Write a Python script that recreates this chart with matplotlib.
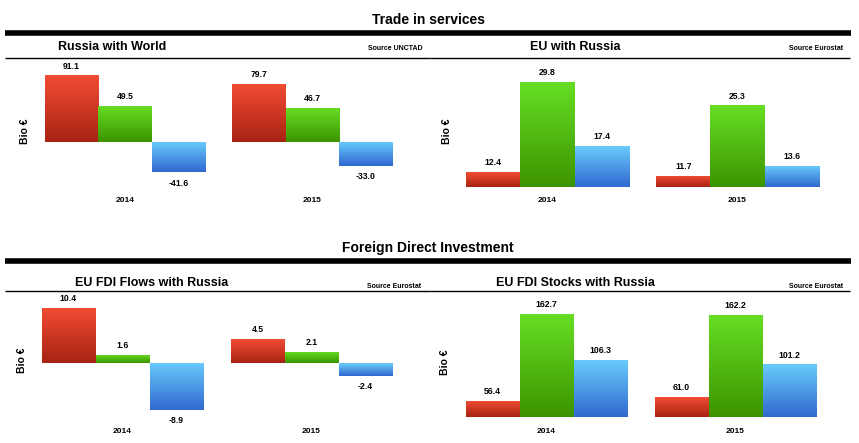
import numpy as np
import matplotlib
matplotlib.use('Agg')
import matplotlib.pyplot as plt
from matplotlib.colors import LinearSegmentedColormap

plt.rcParams['font.family'] = ['Liberation Sans', 'DejaVu Sans']

# ---------------- data ----------------
years = ['2014', '2015']

# Trade in services: Russia with World (Source UNCTAD)
rw_red = [91.1, 79.7]
rw_green = [49.5, 46.7]
rw_blue = [-41.6, -33.0]

# Trade in services: EU with Russia (Source Eurostat)
eu_red = [12.4, 11.7]
eu_green = [29.8, 25.3]
eu_blue = [17.4, 13.6]

# FDI flows
fl_red = [10.4, 4.5]
fl_green = [1.6, 2.1]
fl_blue = [-8.9, -2.4]

# FDI stocks
st_red = [56.4, 61.0]
st_green = [162.7, 162.2]
st_blue = [106.3, 101.2]

# ---------------- styling ----------------
W, H = 859, 443
fig = plt.figure(figsize=(W / 100, H / 100), dpi=100)
fig.patch.set_facecolor('white')

grad = {
    'red': ('#f24c33', '#a82313'),
    'green': ('#66de24', '#3d9400'),
    'blue': ('#68cbfb', '#3169d0'),
}


def fx(px):
    return px / W


def fy(py):
    return 1 - py / H


def hline(y, x0, x1, lw):
    fig.add_artist(plt.Line2D([fx(x0), fx(x1)], [fy(y), fy(y)], color='black',
                              lw=lw, transform=fig.transFigure, solid_capstyle='butt'))


def panel(box, center_px, step_px, base_px, scale, base_val, pad_pt, series):
    L, T, R, B = box
    ax = fig.add_axes([fx(L), fy(B), fx(R) - fx(L), (B - T) / H])
    xlim = ((L - center_px) / step_px, (R - center_px) / step_px)
    ylim = (base_val - (B - base_px) / scale, base_val + (base_px - T) / scale)
    groups = np.array([0.0, 3.5])
    for i, (vals, cname) in enumerate(series):
        xs = groups + (i - 1)
        bars = ax.bar(xs, vals, width=1.0, color='none', edgecolor='none')
        c_top, c_bot = grad[cname]
        cmap = LinearSegmentedColormap.from_list(cname, [c_bot, c_top])
        for bar, x, v in zip(bars, xs, vals):
            lo = max(min(0, v), ylim[0])
            hi = max(0, v)
            g = np.linspace(0, 1, 64).reshape(-1, 1)
            im = ax.imshow(g, cmap=cmap, origin='lower', aspect='auto',
                           extent=(x - 0.5, x + 0.5, lo, hi), zorder=2)
            im.set_clip_path(bar)
            if v >= 0:
                ax.annotate(f'{v:.1f}', (x, v), xytext=(0, 3.5), textcoords='offset points',
                            ha='center', va='bottom', fontsize=6.2, fontweight='bold')
            else:
                ax.annotate(f'{v:.1f}', (x, v), xytext=(0, -4.5), textcoords='offset points',
                            ha='center', va='top', fontsize=6.2, fontweight='bold')
    ax.set_xlim(*xlim)
    ax.set_ylim(*ylim)
    ax.set_xticks(groups, years)
    ax.tick_params(axis='x', length=0, pad=pad_pt, labelsize=6)
    for lab in ax.get_xticklabels():
        lab.set_fontweight('bold')
    ax.set_yticks([])
    for s in ax.spines.values():
        s.set_visible(False)
    ax.patch.set_alpha(0)
    return ax


# section titles and rules
fig.text(fx(428), fy(20), 'Trade in services', ha='center', va='center',
         fontsize=10, fontweight='bold')
hline(33, 5, 851, 4)
fig.text(fx(428), fy(248), 'Foreign Direct Investment', ha='center', va='center',
         fontsize=10, fontweight='bold')
hline(261, 5, 851, 4)

# panel titles
for (x, y, t) in [(112, 47, 'Russia with World'), (575, 47, 'EU with Russia'),
                  (152, 283, 'EU FDI Flows with Russia'), (575, 283, 'EU FDI Stocks with Russia')]:
    fig.text(fx(x), fy(y), t, ha='center', va='center', fontsize=9, fontweight='bold')
for (x, y, t) in [(423, 49, 'Source UNCTAD'), (843, 49, 'Source Eurostat'),
                  (421, 286, 'Source Eurostat'), (843, 286, 'Source Eurostat')]:
    fig.text(fx(x), fy(y), t, ha='right', va='center', fontsize=5, fontweight='bold')
hline(58, 5, 430, 1)
hline(58, 430, 850, 1)
hline(291, 5, 430, 1)
hline(291, 430, 850, 1)

# y labels
for (x, y) in [(25, 131), (447, 131), (22, 360), (445, 362)]:
    fig.text(fx(x), fy(y), 'Bio €', rotation=90, ha='center', va='center',
             fontsize=7.5, fontweight='bold')

# panels
panel((5, 60, 428, 192), 125, 53.5, 142, 0.73, 0.0, 3.6,
      [(rw_red, 'red'), (rw_green, 'green'), (rw_blue, 'blue')])
panel((432, 60, 850, 187), 547.5, 54.3, 187, 5.16, 9.5, 7.2,
      [(eu_red, 'red'), (eu_green, 'green'), (eu_blue, 'blue')])
panel((5, 293, 428, 424), 122.5, 54, 363, 5.3, 0.0, 3.0,
      [(fl_red, 'red'), (fl_green, 'green'), (fl_blue, 'blue')])
panel((432, 293, 850, 417), 546.5, 54, 417, 0.816, 36.7, 8.0,
      [(st_red, 'red'), (st_green, 'green'), (st_blue, 'blue')])

fig.savefig('out.png', dpi=100, facecolor='white')
